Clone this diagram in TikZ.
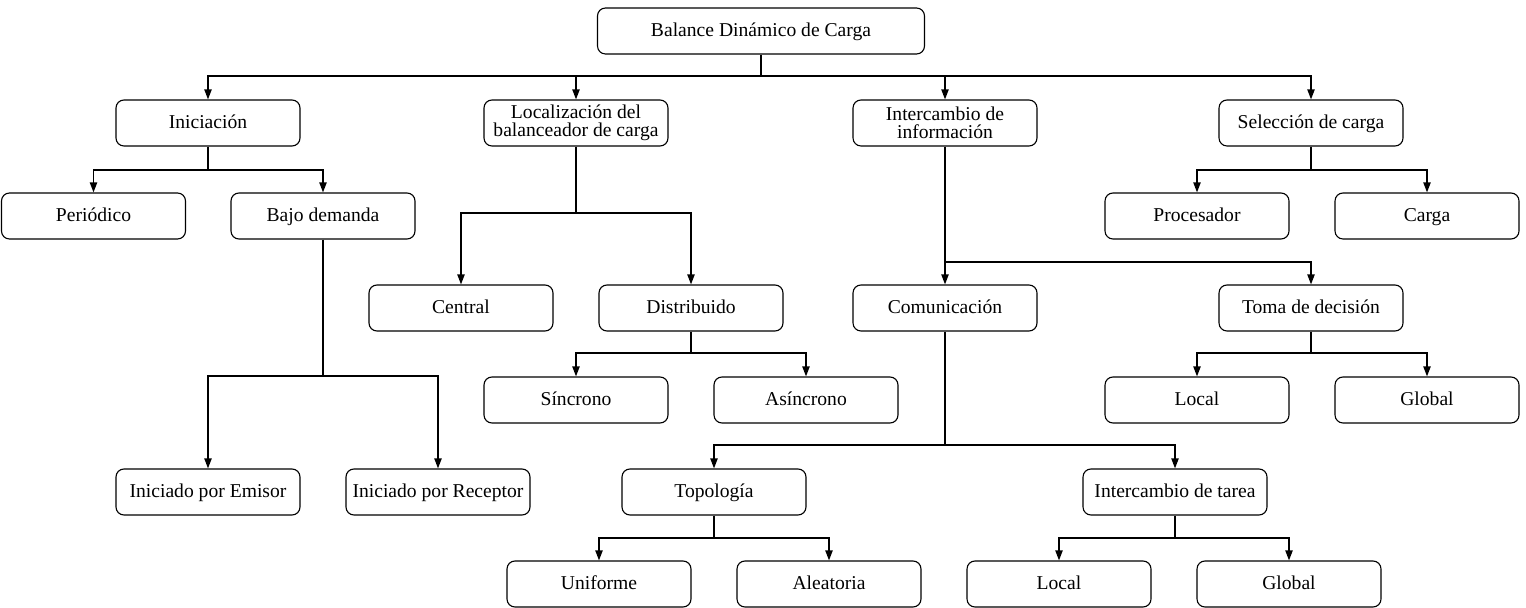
\documentclass[tikz,border=0pt]{standalone}
\usepackage{fontspec}
\setmainfont{Liberation Serif}
\usetikzlibrary{arrows.meta}
\tikzset{
  box/.style={draw, rounded corners=4pt, line width=0.55pt, minimum width=92pt, minimum height=23pt, inner sep=1pt, align=center, text height=8pt, text depth=2pt, font=\fontsize{9.8}{11.8}\selectfont},
  twoline/.style={text height=, text depth=, font=\fontsize{9.8}{9.2}\selectfont},
  conn/.style={line width=0.75pt},
  arr/.style={conn, -{Triangle[length=5pt,width=3.6pt]}}
}
\begin{document}
\begin{tikzpicture}[x=0.5pt,y=-0.5pt]
\useasboundingbox (0,0) rectangle (1526,608);
% nodes
\node[box, minimum width=163.5pt] (root) at (761,31) {Balance Dinámico de Carga};
\node[box] (ini) at (208,123) {Iniciación};
\node[box, twoline] (loc) at (576,123) {Localización del\\balanceador de carga};
\node[box, twoline] (inf) at (945,123) {Intercambio de\\información};
\node[box] (sel) at (1311,123) {Selección de carga};
\node[box] (per) at (93.5,216) {Periódico};
\node[box] (baj) at (323,216) {Bajo demanda};
\node[box] (emi) at (208,492) {Iniciado por Emisor};
\node[box] (rec) at (438,492) {Iniciado por Receptor};
\node[box] (cen) at (461,308) {Central};
\node[box] (dis) at (691,308) {Distribuido};
\node[box] (sin) at (576,400) {Síncrono};
\node[box] (asi) at (806,400) {Asíncrono};
\node[box] (com) at (945,308) {Comunicación};
\node[box] (tom) at (1311,308) {Toma de decisión};
\node[box] (locd) at (1197,400) {Local};
\node[box] (glod) at (1427,400) {Global};
\node[box] (top) at (714,492) {Topología};
\node[box] (itr) at (1175,492) {Intercambio de tarea};
\node[box] (uni) at (599,584) {Uniforme};
\node[box] (ale) at (829,584) {Aleatoria};
\node[box] (loct) at (1059,584) {Local};
\node[box] (glot) at (1289,584) {Global};
\node[box] (pro) at (1197,216) {Procesador};
\node[box] (car) at (1427,216) {Carga};
% bar levels
\coordinate (yroot) at (0,76);
\coordinate (yini) at (0,170);
\coordinate (ybaj) at (0,376);
\coordinate (yloc) at (0,213);
\coordinate (ydis) at (0,353);
\coordinate (yinf) at (0,262);
\coordinate (ytom) at (0,353);
\coordinate (ycom) at (0,445);
\coordinate (ytop) at (0,538);
\coordinate (yitr) at (0,538);
\coordinate (ysel) at (0,170);
% connectors
\foreach \p/\y/\cs in {root/yroot/{ini,loc,inf,sel}, ini/yini/{per,baj}, baj/ybaj/{emi,rec}, loc/yloc/{cen,dis}, dis/ydis/{sin,asi}, inf/yinf/{com,tom}, tom/ytom/{locd,glod}, com/ycom/{top,itr}, top/ytop/{uni,ale}, itr/yitr/{loct,glot}, sel/ysel/{pro,car}}{
  \draw[conn] (\p.south) -- (\p.south |- \y);
  \foreach \c in \cs {
    \draw[arr] (\p.south |- \y) -| (\c.north);
  }
}
\end{tikzpicture}
\end{document}
